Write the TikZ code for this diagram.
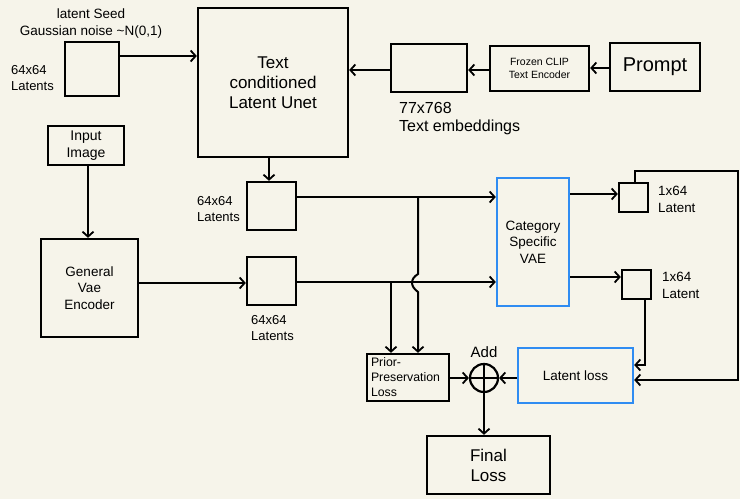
\documentclass[tikz,border=0pt]{standalone}
\usepackage{fontspec}
\setmainfont{Liberation Sans}
\usetikzlibrary{arrows.meta}
\definecolor{bg}{HTML}{F6F4EA}
\definecolor{vblue}{HTML}{2F8CF2}
\begin{document}
\begin{tikzpicture}[x=1pt,y=-1pt,
  box/.style={draw, line width=2.3pt, inner sep=0pt, align=center},
  bluebox/.style={box, draw=vblue},
  arr/.style={line width=2pt, -{Straight Barb[length=5pt,width=11pt,line width=1.8pt]}},
  ln/.style={line width=2pt},
  lbl/.style={inner sep=0pt, align=left},
  fa/.style={font=\fontsize{13.5}{16.5}\selectfont}]
\fill[bg] (0,0) rectangle (740,499);
\useasboundingbox (0,0) rectangle (740,499);

% boxes
\node[box, minimum width=54pt, minimum height=54pt] (seed) at (92,69) {};
\node[box, minimum width=150pt, minimum height=149pt, font=\fontsize{17}{20}\selectfont] (unet) at (273,82.5) {Text\\conditioned\\Latent Unet};
\node[box, minimum width=76pt, minimum height=48pt] (emb) at (429,68) {};
\node[box, minimum width=99pt, minimum height=45pt, font=\fontsize{10.5}{13}\selectfont] (clip) at (539.5,68.5) {Frozen CLIP\\Text Encoder};
\node[box, minimum width=90pt, minimum height=48pt, font=\fontsize{20}{24}\selectfont] (prompt) at (655,67) {Prompt};
\node[box, minimum width=76pt, minimum height=39pt, font=\fontsize{14}{16.5}\selectfont] (input) at (86,145.5) {Input\\Image};
\node[box, minimum width=97pt, minimum height=98pt, fa] (enc) at (89.5,288) {General\\Vae\\Encoder};
\node[box, minimum width=49pt, minimum height=48pt] (latA) at (271.5,206) {};
\node[box, minimum width=49pt, minimum height=48pt] (latB) at (271.5,281) {};
\node[bluebox, minimum width=72pt, minimum height=128pt, fa] (vae) at (533,242) {Category\\Specific\\VAE};
\node[box, minimum width=29pt, minimum height=29pt] (l1) at (633.5,197.5) {};
\node[box, minimum width=29pt, minimum height=29pt] (l2) at (636.5,284.5) {};
\node[box, minimum width=82pt, minimum height=47pt, font=\fontsize{12.3}{15}\selectfont, align=left] (prior) at (408,377.5) {\makebox[74pt][l]{Prior-}\\\makebox[74pt][l]{Preservation}\\\makebox[74pt][l]{Loss}};
\node[draw, circle, line width=2.2pt, minimum size=28pt, inner sep=0pt] (add) at (484,378) {};
\draw[ln] (add.north) -- (add.south) (add.west) -- (add.east);
\node[bluebox, minimum width=115pt, minimum height=55pt, fa] (latloss) at (575.5,375.5) {Latent loss};
\node[box, minimum width=123pt, minimum height=58pt, font=\fontsize{17}{20}\selectfont] (final) at (488.5,465) {Final\\Loss};

% labels
\node[lbl, align=center, font=\fontsize{13.5}{17}\selectfont] (seedlbl) at (91,23.5) {latent Seed\\Gaussian noise \char"7E N(0,1)};
\node[lbl, anchor=west, font=\fontsize{13}{16.5}\selectfont] (seedlat) at (11,78) {64x64\\Latents};
\node[lbl, anchor=west, font=\fontsize{16}{17.5}\selectfont] (emblbl) at (399,118.5) {77x768\\Text embeddings};
\node[lbl, anchor=west, font=\fontsize{13}{16.5}\selectfont] (latAlbl) at (197,209) {64x64\\Latents};
\node[lbl, anchor=west, font=\fontsize{13}{16.5}\selectfont] (latBlbl) at (251,328) {64x64\\Latents};
\node[lbl, anchor=west, font=\fontsize{13.4}{16.5}\selectfont] (l1lbl) at (658,199.5) {1x64\\Latent};
\node[lbl, anchor=west, font=\fontsize{13.4}{16.5}\selectfont] (l2lbl) at (662,285.5) {1x64\\Latent};
\node[lbl, font=\fontsize{15}{17}\selectfont] (addlbl) at (484,352) {Add};

% connectors
\draw[arr] (seed.east |- 0,56) -- (unet.west |- 0,56);
\draw[arr] (emb.west |- 0,70) -- (unet.east |- 0,70);
\draw[arr] (clip.west |- 0,70) -- (emb.east |- 0,70);
\draw[arr] (prompt.west |- 0,68) -- (clip.east |- 0,68);
\draw[arr] (unet.south -| 269,0) -- (latA.north -| 269,0);
\draw[arr] (input.south -| 88,0) -- (enc.north -| 88,0);
\draw[arr] (enc.east |- 0,283) -- (latB.west |- 0,283);
\draw[arr] (latA.east |- 0,197) -- (vae.west |- 0,197);
\draw[arr] (latB.east |- 0,282) -- (vae.west |- 0,282);
\coordinate (brA) at (418,197);
\coordinate (brB) at (391,282);
\draw[arr] (brA) -- (418,274) .. controls (410,279) and (410,286) .. (418,292) -- (prior.north -| brA);
\draw[arr] (brB) -- (prior.north -| brB);
\draw[arr] (vae.east |- 0,194) -- (l1.west |- 0,194);
\draw[arr] (vae.east |- 0,277) -- (l2.west |- 0,277);
\draw[arr] (l2.south -| 645,0) -- (645,365) -- (latloss.east |- 0,365);
\draw[arr] (l1.north -| 635,0) -- (635,171) -- (738,171) -- (738,380) -- (latloss.east |- 0,380);
\draw[arr] (prior.east |- add.west) -- (add.west);
\draw[arr] (latloss.west |- add.east) -- (add.east);
\draw[arr] (add.south) -- (final.north -| add.south);
\end{tikzpicture}
\end{document}
